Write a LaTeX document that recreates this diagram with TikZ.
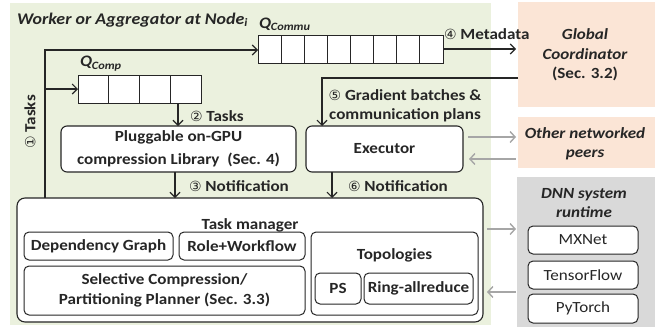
\documentclass[tikz,border=0pt]{standalone}
\usepackage{fontspec}
\setmainfont{Carlito}[FakeStretch=1.1]
\newfontfamily\cnumfont{DejaVu Sans}
\usetikzlibrary{arrows.meta,calc}
\definecolor{bggreen}{HTML}{EBF1DE}
\definecolor{bgorange}{HTML}{FBE5D6}
\definecolor{bggray}{HTML}{D9D9D9}
\definecolor{txt}{HTML}{262626}
\definecolor{garrow}{HTML}{A6A6A6}
\newcommand{\cnum}[1]{{\cnumfont\fontsize{14}{14}\selectfont\mdseries #1}}
\begin{document}
\begin{tikzpicture}[x=1pt,y=-1pt,
  font=\fontsize{15.5}{19.5}\selectfont\bfseries, text=txt,
  every node/.style={inner sep=0pt, outer sep=0pt},
  box/.style={draw=txt, line width=1.1pt, fill=white, rounded corners=6pt, align=center},
  sbox/.style={draw=txt, line width=1pt, fill=white, rounded corners=5pt, align=center},
  regular/.style={font=\fontsize{15.5}{19.5}\selectfont\mdseries},
  big/.style={font=\fontsize{16.3}{20}\selectfont\bfseries},
  qlbl/.style={font=\fontsize{16}{20}\selectfont\bfseries},
  queue/.style={draw=txt, line width=0.9pt, fill=white, anchor=north west},
  arr/.style={draw=txt, line width=1.1pt, -{Straight Barb[length=5pt,width=10pt]}},
  garr/.style={draw=garrow, line width=1.4pt, -{Straight Barb[length=5pt,width=11pt]}},
  lbl/.style={anchor=west, text=txt}
]
\useasboundingbox (0,0) rectangle (655,327);
% backgrounds
\fill[bggreen] (10,3) rectangle (491,325);
\fill[bgorange] (518,2) rectangle (655,107);
\fill[bgorange] (518,117) rectangle (655,168);
\fill[bggray] (517,177) rectangle (655,327);

% title
\node[anchor=west, big] (title) at (17,20) {\itshape Worker or Aggregator at Node\textsubscript{\itshape i}};

% queues
\node[queue, minimum width=185pt, minimum height=28pt] (qcommu) at (258,35) {};
\foreach \i in {1,...,7} \draw[txt, line width=0.9pt] ($(qcommu.north west)+(\i*23.125,0)$) -- ($(qcommu.south west)+(\i*23.125,0)$);
\node[anchor=south west, qlbl] (qcommulbl) at (259,31) {\itshape Q\textsubscript{\itshape Commu}};

\node[queue, minimum width=123pt, minimum height=28pt] (qcomp) at (78,75) {};
\foreach \i in {1,...,3} \draw[txt, line width=0.9pt] ($(qcomp.north west)+(\i*30.75,0)$) -- ($(qcomp.south west)+(\i*30.75,0)$);
\node[anchor=south west, qlbl] (qcomplbl) at (80,71) {\itshape Q\textsubscript{\itshape Comp}};

% boxes
\node[box, anchor=north west, minimum width=235pt, minimum height=46pt] (plug) at (61,126) {};
\node[align=center, font=\fontsize{15.5}{23}\selectfont\bfseries] (plugtxt) at (178.5,149) {Pluggable on-GPU\\compression Library~~(Sec. 4)};
\node[box, anchor=north west, minimum width=157pt, minimum height=46pt] (exec) at (306,126) {Executor};

% global coordinator etc.
\node[align=center] (gc) at (585,55) {\itshape Global\\\itshape Coordinator\\(Sec. 3.2)};
\node[align=center] (peers) at (585,144) {\itshape Other networked\\\itshape peers};
\node[align=center] (dnn) at (584,203) {\itshape DNN system\\\itshape runtime};
\node[sbox, regular, anchor=north west, minimum width=110pt, minimum height=28pt] (mx) at (528,226) {MXNet};
\node[sbox, regular, anchor=north west, minimum width=110pt, minimum height=28pt] (tf) at (528,261) {TensorFlow};
\node[sbox, regular, anchor=north west, minimum width=110pt, minimum height=29pt] (pt) at (528,294) {PyTorch};

% task manager
\node[box, anchor=north west, minimum width=466pt, minimum height=124pt, rounded corners=8pt] (tm) at (17,198) {};
\node (tmtxt) at (250,225) {Task manager};
\node[sbox, anchor=north west, minimum width=149pt, minimum height=28pt] (dep) at (24,232) {Dependency Graph};
\node[sbox, anchor=north west, minimum width=126pt, minimum height=28pt] (role) at (179,232) {Role+Workflow};
\node[sbox, anchor=north west, minimum width=281pt, minimum height=49pt] (sel) at (24,266) {Selective Compression/\\Partitioning Planner (Sec. 3.3)};
\node[sbox, anchor=north west, minimum width=167pt, minimum height=83pt] (topo) at (311,232) {};
\node (topotxt) at (394.5,255) {Topologies};
\node[sbox, anchor=north west, minimum width=46pt, minimum height=31pt] (ps) at (315,273) {PS};
\node[sbox, anchor=north west, minimum width=109pt, minimum height=31pt] (ring) at (364,273) {Ring-allreduce};

% connectors
\coordinate (vl) at (45,0);
\draw[arr] (tm.north -| vl) |- (qcommu.west |- 0,50);
\draw[arr] (vl |- qcomp.west) -- (qcomp.west);
\node[rotate=90] (t1) at (30,122) {\cnum{①} Tasks};

\coordinate (a2) at (178,0);
\draw[arr] (a2 |- qcomp.south) -- (a2 |- plug.north);
\node[lbl] (t2) at (190,116) {\cnum{②} Tasks};

\coordinate (a3) at (175,0);
\draw[arr] (a3 |- plug.south) -- (a3 |- tm.north);
\node[lbl] (t3) at (189,186) {\cnum{③} Notification};

\coordinate (a6) at (332,0);
\draw[arr] (a6 |- exec.south) -- (a6 |- tm.north);
\node[lbl] (t6) at (348,186) {\cnum{⑥} Notification};

\coordinate (gcl) at (518,78);
\coordinate (a5) at (322,0);
\draw[arr] (gcl) -| (a5 |- exec.north);
\node[align=center] (t5) at (405,106) {\cnum{⑤} Gradient batches \&\\communication plans};

\coordinate (gcin) at (516,49);
\draw[arr] (qcommu.east |- gcin) -- (gcin);
\node[lbl] (t4) at (444,34) {\cnum{④} Metadata};

% gray arrows
\coordinate (pin) at (516,0);
\draw[garr] (exec.east |- 0,137) ++(5,0) -- (pin |- 0,137);
\draw[garr] (pin |- 0,159) -- ++(-47,0);
\draw[garr] (tm.east |- 0,229) ++(4,0) -- (pin |- 0,229);
\draw[garr] (pin |- 0,292) -- ++(-29,0);
\end{tikzpicture}
\end{document}
